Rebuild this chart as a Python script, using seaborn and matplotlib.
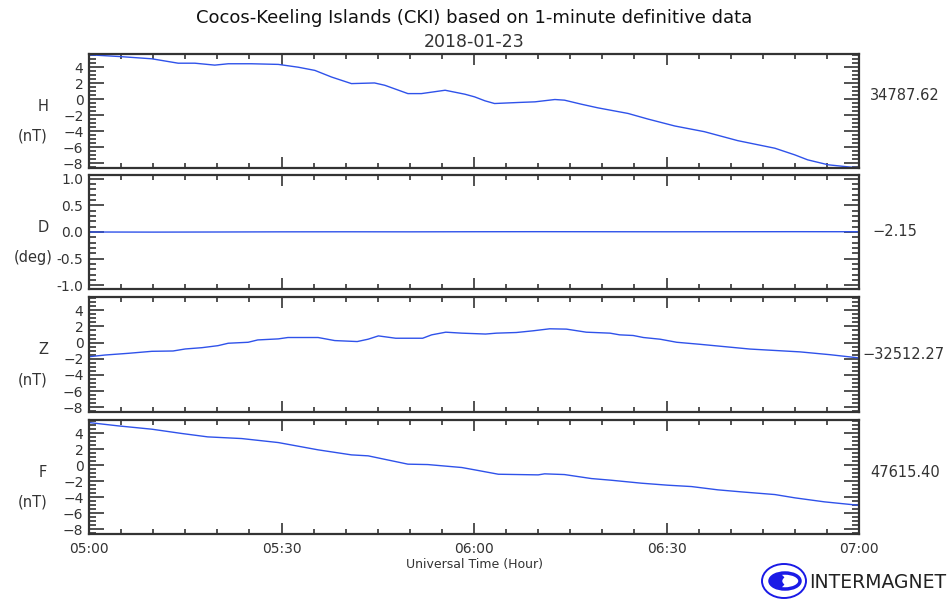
import numpy as np
import pandas as pd
import seaborn as sns
import matplotlib.pyplot as plt
import matplotlib.dates as mdates
from matplotlib.patches import Ellipse

# minutes after 05:00 and values
h_min = [0, 4.6, 9.8, 13.9, 16.5, 19.6, 21.7, 25.3, 29.5, 32.6, 35.2, 37.8, 40.9, 44.5, 46.1,
         49.7, 51.8, 55.5, 58.6, 60.1, 61.7, 63.2, 66.9, 69.5, 72.6, 74.1, 76.7, 79.3, 84.0,
         87.1, 91.3, 95.9, 101.1, 106.9, 110.0, 112.0, 115.2, 118.8, 120]
h_val = [5.55, 5.34, 5.05, 4.5, 4.5, 4.26, 4.43, 4.43, 4.35, 4.0, 3.6, 2.77, 1.95, 2.03, 1.74,
         0.70, 0.70, 1.12, 0.62, 0.29, -0.2, -0.54, -0.41, -0.33, -0.04, -0.12, -0.62, -1.08, -1.78,
         -2.48, -3.35, -4.06, -5.18, -6.13, -6.96, -7.58, -8.2, -8.5, -8.55]

d_min = [0, 10, 20, 30, 40, 50, 60, 70, 80, 90, 100, 110, 120]
d_val = [0.0, -0.002, 0.0, 0.003, 0.004, 0.003, 0.005, 0.006, 0.005, 0.004, 0.005, 0.006, 0.005]

z_min = [0, 2.5, 6.1, 9.8, 13.1, 15, 17.6, 20.1, 21.7, 24.8, 26.3, 29.5, 31, 35.7, 38.3, 41.8,
         43.5, 45.1, 47.8, 52, 53.4, 55.6, 58.1, 61.8, 63.5, 66.6, 69.2, 71.8, 74.4, 77.5, 81.2,
         82.7, 84.8, 86.4, 89, 91.6, 95.2, 103, 110.8, 115.5, 120]
z_val = [-1.75, -1.54, -1.33, -1.08, -1.04, -0.79, -0.63, -0.38, -0.08, 0.04, 0.33, 0.46, 0.63,
         0.63, 0.25, 0.13, 0.42, 0.83, 0.54, 0.54, 0.96, 1.29, 1.17, 1.06, 1.17, 1.25, 1.46, 1.71,
         1.67, 1.29, 1.17, 0.96, 0.88, 0.63, 0.42, 0.04, -0.21, -0.8, -1.15, -1.5, -1.9]

f_min = [0, 4.5, 9.8, 14.5, 18.5, 23.8, 29.5, 35.7, 40.9, 43.5, 49.7, 52.8, 58.1, 60.1, 63.8,
         70, 71, 74.1, 78.3, 81.4, 86.1, 90.2, 93.9, 98, 101.6, 106.9, 110, 114.6, 118.8, 120]
f_val = [5.33, 4.92, 4.5, 3.96, 3.54, 3.33, 2.83, 1.92, 1.29, 1.17, 0.13, 0.08, -0.29, -0.58,
         -1.13, -1.21, -1.08, -1.17, -1.67, -1.88, -2.25, -2.5, -2.67, -3.08, -3.33, -3.67, -4.08,
         -4.58, -4.92, -5.0]

components = ['H', 'D', 'Z', 'F']
units = ['(nT)', '(deg)', '(nT)', '(nT)']
baselines = ['34787.62', '-2.15', '-32512.27', '47615.40']
base_xpix = [870, 872, 862, 870]
base_ypos = [0.64, 0.5, 0.5, 0.54]

start = pd.Timestamp('2018-01-23 05:00')
end = pd.Timestamp('2018-01-23 07:00')

def to_frame(mins, vals):
    return pd.DataFrame({'time': start + pd.to_timedelta(mins, unit='min'), 'value': vals})

frames = [to_frame(h_min, h_val), to_frame(d_min, d_val), to_frame(z_min, z_val), to_frame(f_min, f_val)]

sns.set_style('ticks')
plt.rcParams['font.family'] = ['DejaVu Sans']

W, H = 952, 603
fig = plt.figure(figsize=(W / 100, H / 100), dpi=100)

# panel pixel bounds (top, bottom)
panels = [(54, 168), (175, 289), (297, 412), (420, 534)]
left, right = 89, 859
dark = '#333333'
txt = '#333333'
line_col = '#2f52ea'

axes = []
for i, (top, bot) in enumerate(panels):
    ax = fig.add_axes([left / W, 1 - bot / H, (right - left) / W, (bot - top) / H])
    sns.lineplot(data=frames[i], x='time', y='value', ax=ax, color=line_col, linewidth=1.0)
    ax.set_xlim(start, end)
    if components[i] == 'D':
        ax.set_ylim(-1.07, 1.07)
        ax.yaxis.set_major_locator(plt.MultipleLocator(0.5))
        ax.yaxis.set_minor_locator(plt.MultipleLocator(0.1))
        ax.yaxis.set_major_formatter(plt.FormatStrFormatter('%.1f'))
    else:
        ax.set_ylim(-8.6, 5.65)
        ax.yaxis.set_major_locator(plt.MultipleLocator(2))
        ax.yaxis.set_minor_locator(plt.MultipleLocator(0.5))
    ax.xaxis.set_major_locator(mdates.MinuteLocator(byminute=[0, 30]))
    ax.xaxis.set_minor_locator(mdates.MinuteLocator(byminute=range(0, 60, 5)))
    ax.xaxis.set_major_formatter(mdates.DateFormatter('%H:%M'))
    ax.tick_params(which='both', direction='in', top=True, right=True, color=dark,
                   labelsize=10, labelcolor=txt, width=1.2)
    ax.tick_params(axis='y', which='major', length=10.5, pad=4)
    ax.tick_params(axis='y', which='minor', length=5)
    ax.tick_params(axis='x', which='major', length=8, pad=6)
    ax.tick_params(axis='x', which='minor', length=3.8)
    if i < 3:
        ax.tick_params(axis='x', labelbottom=False)
    for s in ax.spines.values():
        s.set_color(dark)
        s.set_linewidth(1.6)
    ax.set_xlabel('')
    ax.set_ylabel('')
    ax.text(-0.0597, 0.54, components[i], transform=ax.transAxes, ha='center', va='center',
            fontsize=10.5, color=txt)
    ax.text(-0.0727, 0.28, units[i], transform=ax.transAxes, ha='center', va='center',
            fontsize=10.5, color=txt)
    ax.text((base_xpix[i] - left) / (right - left), base_ypos[i],
            baselines[i].replace('-', '\u2212'), transform=ax.transAxes,
            ha='left', va='center', fontsize=10.5, color=txt)
    axes.append(ax)

axes[-1].set_xlabel('Universal Time (Hour)', fontsize=9, color=txt, labelpad=1)

fig.text(474 / W, 1 - 18 / H, 'Cocos-Keeling Islands (CKI) based on 1-minute definitive data',
         ha='center', va='center', fontsize=13, color='#111111')
fig.text(474 / W, 1 - 42 / H, '2018-01-23', ha='center', va='center', fontsize=12.5, color=txt)

# INTERMAGNET logo
logo = fig.add_axes([761 / W, 1 - 599 / H, 46 / W, 36 / H])
logo.set_xlim(0, 46)
logo.set_ylim(0, 36)
logo.axis('off')
blue = '#1a1ae6'
logo.add_patch(Ellipse((23, 18), 44, 34, fill=False, edgecolor=blue, linewidth=1.4))
logo.add_patch(Ellipse((24, 18), 30, 16, fill=False, edgecolor=blue, linewidth=2.5))
logo.add_patch(Ellipse((17, 18), 13, 13, color=blue))
logo.add_patch(Ellipse((27, 18), 10, 7, color='white'))
fig.text(809 / W, 1 - 582 / H, 'INTERMAGNET', ha='left', va='center', fontsize=13.5,
         color='#222222')

fig.savefig('out.png', dpi=100)
